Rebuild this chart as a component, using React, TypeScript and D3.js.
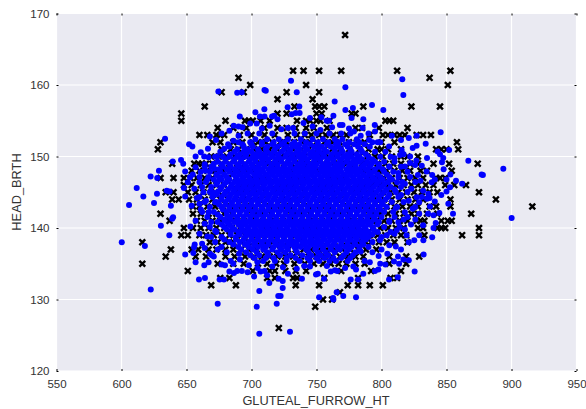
import React, { useEffect, useRef } from 'react';
import * as d3 from 'd3';

const xTicks = [550, 600, 650, 700, 750, 800, 850, 900, 950];
const yTicks = [120, 130, 140, 150, 160, 170];

// black crosses, one row per HEAD_BRTH value: [y, x values]
const crossRows: [number, number[]][] = [
  [167, [772]],
  [162, [732, 740, 752, 769, 812, 853]],
  [161, [690, 837]],
  [160, [699, 742, 851]],
  [159, [677, 694, 727, 752]],
  [158, [720, 747]],
  [157, [664, 733, 749, 752, 756, 786, 823, 845]],
  [156, [646, 720, 727, 750, 754, 777, 780]],
  [155, [646, 680, 695, 698, 701, 707, 714, 735, 742, 745, 750, 753, 760, 803, 806, 809]],
  [154, [674, 686, 696, 710, 720, 727, 734, 742, 748, 758, 780, 785, 798, 820]],
  [153, [660, 666, 673, 676, 679, 691, 700, 710, 718, 728, 735, 741, 746, 752, 757, 763, 768, 773, 791, 801, 805, 810, 814, 818, 827, 832, 838]],
  [152, [630, 670, 676, 686, 693, 701, 705, 711, 716, 722, 727, 733, 739, 745, 750, 756, 762, 768, 775, 781, 787, 800, 810, 858]],
  [151, [628, 677, 684, 690, 696, 702, 708, 714, 720, 726, 732, 738, 744, 750, 756, 762, 768, 775, 783, 790, 797, 800, 805, 815, 842, 846, 850, 859]],
  [150, [669, 675, 681, 687, 693, 699, 705, 711, 717, 723, 729, 735, 741, 747, 753, 759, 765, 771, 777, 783, 789, 795, 801, 808, 815, 820, 828]],
  [149, [639, 656, 659, 662, 665, 670, 677, 683, 689, 695, 701, 707, 713, 719, 725, 731, 737, 743, 749, 755, 761, 767, 773, 779, 785, 791, 797, 803, 809, 815, 822, 828, 840, 852, 874]],
  [148, [654, 660, 666, 672, 678, 684, 690, 696, 702, 708, 714, 720, 726, 732, 738, 744, 750, 756, 762, 768, 774, 780, 786, 792, 798, 804, 810, 816, 822, 830, 835, 854]],
  [147, [630, 640, 648, 653, 658, 664, 670, 676, 682, 688, 694, 700, 706, 712, 718, 724, 730, 736, 742, 748, 754, 760, 766, 772, 778, 784, 790, 796, 802, 808, 814, 820, 826, 832, 842, 845, 849]],
  [146, [648, 654, 661, 667, 673, 679, 685, 691, 697, 703, 709, 715, 721, 727, 733, 739, 745, 751, 757, 763, 769, 775, 781, 787, 793, 799, 805, 811, 817, 823, 828, 834, 840, 849, 856, 865]],
  [145, [634, 640, 651, 657, 663, 669, 675, 681, 687, 693, 699, 705, 711, 717, 723, 729, 735, 741, 747, 753, 759, 765, 771, 777, 783, 789, 795, 801, 807, 813, 819, 825, 831, 837, 843, 875]],
  [144, [639, 644, 652, 658, 664, 670, 676, 682, 688, 694, 700, 706, 712, 718, 724, 730, 736, 742, 748, 754, 760, 766, 772, 778, 784, 790, 796, 802, 808, 814, 820, 826, 832, 853, 888]],
  [143, [655, 660, 666, 672, 678, 684, 690, 696, 702, 708, 714, 720, 726, 732, 738, 744, 750, 756, 762, 768, 774, 780, 786, 792, 798, 804, 810, 816, 822, 828, 837, 842, 853, 916]],
  [142, [630, 655, 661, 667, 673, 679, 685, 691, 697, 703, 709, 715, 721, 727, 733, 739, 745, 751, 757, 763, 769, 775, 781, 787, 793, 799, 805, 811, 817, 823, 828, 835, 843, 869]],
  [141, [637, 658, 664, 670, 676, 682, 688, 694, 700, 706, 712, 718, 724, 730, 736, 742, 748, 754, 760, 766, 772, 778, 784, 790, 796, 802, 808, 814, 820, 827, 830, 833, 846, 851, 854]],
  [140, [648, 655, 661, 667, 673, 679, 685, 691, 697, 703, 709, 715, 721, 727, 733, 739, 745, 751, 757, 763, 769, 775, 781, 787, 793, 799, 805, 811, 817, 828, 832, 843, 846, 849, 875]],
  [139, [646, 651, 660, 665, 671, 677, 683, 689, 695, 701, 707, 713, 719, 725, 731, 737, 743, 749, 755, 761, 767, 773, 779, 785, 791, 797, 803, 809, 815, 819, 833, 862, 875]],
  [138, [616, 668, 674, 680, 686, 692, 698, 704, 710, 716, 722, 728, 734, 740, 746, 752, 758, 764, 770, 776, 782, 788, 792, 798, 804, 810, 820]],
  [137, [638, 654, 659, 667, 673, 680, 686, 692, 698, 704, 710, 716, 722, 728, 734, 740, 746, 752, 758, 764, 770, 776, 782, 788, 796]],
  [136, [634, 657, 665, 680, 687, 695, 702, 708, 714, 720, 726, 732, 738, 744, 750, 756, 762, 768, 774, 780, 786, 806, 819, 829]],
  [135, [616, 674, 686, 694, 705, 712, 719, 725, 733, 741, 748, 755, 761, 767, 773, 780, 787, 806, 819]],
  [134, [651, 701, 714, 718, 726, 734, 742, 769, 792, 815]],
  [133, [676, 683, 712, 718, 732, 735, 756, 782, 807, 812]],
  [132, [669, 688, 734, 752, 774, 782, 791, 801]],
  [131, [768]],
  [130, [755, 762]],
  [129, [749]],
  [126, [721]],
];

// blue dots around the edge of the cloud: [x, y]
const dotEdge: [number, number][] = [
  [633.5, 152.5], [652, 151.7], [654.5, 151.4], [639.4, 149.3], [645.8, 149.5], [647.5, 149], [628.8, 148],
  [622.4, 147.2], [627.5, 147], [611.7, 145.6], [616.8, 144.4], [627.3, 144.8], [634.8, 145.2], [637, 145.1],
  [648, 145.6], [649, 144.4], [674.5, 159.1], [689, 158.9], [692.5, 159], [710, 159.3], [711, 159.2],
  [730.4, 160.6], [734.8, 159], [691, 155.6], [709.9, 156.6], [727.8, 156.9], [736.8, 157], [706.5, 155.6],
  [710, 155.6], [715.8, 155.6], [717.4, 155.7], [720, 155.2], [731, 155.9], [734, 156.1], [737, 156.1],
  [686.3, 154.3], [690, 154.2], [693, 154.1], [704, 154.6], [740, 154.7], [728, 154], [732, 154],
  [672.7, 152.3], [690, 152.9], [686, 152.2], [682, 151.7], [679, 151.1], [666.5, 151.1], [661, 150.6],
  [657, 150], [663.6, 150], [667, 149.9], [673.5, 150], [671, 149], [671.5, 148.3], [649, 147.9],
  [657, 148.5], [654.8, 147.5], [652.7, 147.1], [664.8, 148], [663, 145], [670, 145], [656, 145.5],
  [660, 146.4], [666, 146.8], [658, 144.2], [665, 143.8], [672, 143.6], [661, 142.6], [667, 142.2],
  [605.8, 143.2], [625, 143.5], [638, 143.1], [639.7, 141.5], [639, 141.3], [630.3, 140.3], [636.8, 139],
  [600.2, 138], [618, 137.5], [622.5, 131.4], [649, 136.3], [656.3, 137.7], [655.8, 137.3], [655.2, 136.5],
  [657, 135.2], [662, 137.8], [663.7, 134.8], [668, 136.4], [671, 136], [669.5, 136.2], [659.6, 132.8],
  [664.2, 133], [674, 129.4], [678.8, 132.8], [675.5, 132.8], [679.6, 134.8], [684, 135.4], [683, 133.9],
  [686.5, 133.7], [689, 134], [692.6, 134], [681, 136.6], [690.5, 136.4], [698, 134.8], [704.6, 135.2],
  [704.6, 134.4], [707, 133.9], [710, 134], [706, 131.2], [704, 129], [706, 125.2], [729.6, 125.5],
  [719.4, 129.4], [720.6, 130.5], [722.4, 130.5], [724, 131.6], [724, 132.6], [720.9, 132.9], [713.7, 132.3],
  [716, 134.6], [724.2, 134.5], [734.8, 134.3], [738.8, 132.9], [740.6, 134.7], [749.6, 133.5], [751, 133.6],
  [755.8, 132.9], [752, 130.3], [762.8, 130.2], [763, 130], [765.5, 131], [770.6, 130.5], [780.4, 130.3],
  [776.3, 132.8], [782, 132.8], [761, 133.9], [764.2, 134.1], [766, 134], [778.3, 134.6], [780.4, 134.2],
  [795, 134], [797.6, 134.2], [805.8, 132.8], [812.5, 133.1], [825.5, 133.9], [803, 134.9], [809.6, 135.3],
  [813.5, 135], [816.8, 135.6], [821, 135.5], [812.7, 136], [804.5, 136.4], [797.8, 136.1], [832.4, 136.3],
  [815, 137], [825.2, 138.3], [829, 139], [832.2, 138.3], [839, 138.7], [840, 140], [821, 138], [819.3, 139],
  [810, 139.2], [811.7, 139.7], [804, 139], [798.8, 138.3], [900.1, 141.4], [855, 142], [851.4, 143.4],
  [844.5, 142.1], [840, 141.8], [835.8, 142], [841.7, 140.7], [837.3, 143], [822.7, 140.5], [829, 142],
  [816, 160.8], [772.2, 159.7], [816.8, 158.6], [764, 157.7], [792.7, 157.2], [778, 156.8], [772.2, 156.5],
  [801.4, 156.5], [763, 155.7], [753.7, 155.5], [759.6, 155], [757.8, 155], [768, 154.4], [770, 154.4],
  [775, 153.9], [785.5, 154], [794.8, 154.4], [778.8, 153.5], [821, 152.6], [827, 152.9], [845.5, 153.4],
  [834, 151.8], [805.8, 151.4], [827, 151.5], [824, 151.2], [843.2, 150.7], [852, 150.9], [795, 153.5],
  [790.4, 152.3], [793, 152], [815.5, 150.9], [814.3, 150.2], [817, 150.3], [810, 149.8], [822, 150],
  [826.8, 149.4], [845, 150.3], [847.5, 149.8], [846.5, 149.2], [866.8, 149.4], [893.7, 148.3], [877, 147.5],
  [878, 147.4], [847.8, 148.2], [839, 147.4], [834.7, 147.9], [825.8, 148.8], [822, 149.1], [818, 148.6],
  [853, 147.5], [850, 146.8], [857.3, 146.6], [862, 146.2], [852.7, 145.7], [850, 145.1], [838.6, 146.4],
  [841, 146.8], [828, 147.4], [830, 146.6], [832, 145.2], [836, 144.8], [837, 144.2], [813, 147.7],
  [806, 148.6], [812, 146.4], [818, 146.2], [823, 145.5], [815, 144.6], [821, 143.8], [827, 144.3],
  [811, 142.8], [818, 142.2], [824, 142.7], [806, 141], [813, 140.8], [817, 141.2], [800, 137], [793, 136.6],
  [787, 135.4], [784, 136.7],
  // loose dots that break up the outline of the cloud
  [699, 154.6], [708, 153.9], [714, 154.3], [723, 153.8], [747, 154.2], [753, 153.7], [762, 154.1], [784, 152.9],
  [677, 153.2], [668, 152.8], [683, 153.6], [664, 148.9], [660, 143.4], [654, 143.1], [651, 146.4], [657, 141],
  [664, 140.6], [660, 139.2], [666, 138.8], [653, 140.2], [672, 139.6], [664, 137.2], [674, 137], [667, 135.2],
  [677, 134.9], [686, 135], [691, 135.6], [697, 133.8], [702, 133.2], [712, 133.4], [728, 133.6], [745, 134.6],
  [758, 134.7], [772, 134.4], [786, 133.6], [791, 135.2], [799, 135], [806, 137.6], [811, 137.4], [818, 139.8],
  [826, 141.2], [832, 140.4], [835, 144.1], [829, 143.6], [841, 143.7], [846, 144.6], [835, 149.8], [831, 148.7],
  [815, 152.3], [808, 152.9], [799, 152], [786, 155.2], [777, 155.4], [745, 155.4], [703, 156.2],
];

// blue dots filling the solid middle, one row per y: [y, x values]
const dotRows: [number, number[]][] = [
  [153.2, [697, 706, 716, 733, 741, 750, 760, 769, 776, 790]],
  [152.4, [703, 712, 721, 728, 738, 747, 755, 764, 770, 781]],
  [152, [690, 699, 708, 717, 725, 733, 742, 751, 759, 767, 775, 783, 797]],
  [151.7, [693, 700, 708, 716, 723, 731, 737, 745, 751, 758, 765, 772, 779, 787]],
  [151.35, [683, 694, 701, 712, 720, 727, 734, 741, 748, 754, 761, 767, 774, 782, 791]],
  [151, [689, 697, 705, 711, 718, 725, 730, 737, 743, 751, 756, 764, 769, 776, 784]],
  [150.65, [676, 687, 694, 700, 706, 712, 717, 723, 729, 735, 741, 747, 752, 758, 764, 770, 777, 785, 795, 803]],
  [150.3, [684, 691, 696, 703, 709, 715, 720, 727, 732, 738, 745, 749, 755, 762, 767, 774, 781, 788]],
  [149.95, [672, 678, 683, 689, 695, 701, 706, 711, 716, 721, 726, 731, 736, 741, 746, 751, 756, 761, 766, 771, 777, 783, 790, 799, 807]],
  [149.6, [680, 687, 692, 699, 703, 709, 713, 719, 723, 729, 733, 739, 743, 749, 753, 759, 763, 769, 774, 780, 785, 793]],
  [149.25, [674, 680, 686, 692, 698, 703, 708, 713, 718, 723, 728, 733, 738, 743, 748, 753, 758, 763, 768, 773, 778, 783, 789, 795, 802, 810]],
  [148.9, [677, 683, 689, 695, 700, 706, 710, 716, 720, 726, 730, 736, 740, 746, 750, 756, 760, 766, 770, 776, 780, 787, 792, 798]],
  [148.55, [664, 669, 678, 684, 691, 696, 701, 705, 710, 715, 720, 725, 730, 735, 739, 744, 749, 754, 759, 764, 769, 775, 780, 785, 791, 798, 806, 815]],
  [148.2, [675, 681, 687, 693, 698, 703, 707, 713, 717, 722, 727, 733, 737, 742, 747, 753, 757, 762, 767, 773, 777, 782, 788, 795, 801]],
  [147.85, [661, 668, 676, 683, 689, 694, 699, 704, 709, 714, 719, 724, 729, 734, 739, 744, 749, 754, 759, 764, 769, 774, 779, 784, 790, 794, 802, 809, 820]],
  [147.5, [673, 679, 686, 691, 696, 702, 706, 711, 716, 721, 726, 731, 736, 741, 746, 751, 756, 761, 766, 771, 776, 781, 786, 791, 797, 804]],
  [147.15, [660, 667, 675, 681, 688, 693, 698, 703, 708, 713, 718, 723, 728, 733, 738, 743, 748, 753, 758, 763, 768, 773, 778, 783, 788, 793, 799, 806, 813, 822]],
  [146.8, [671, 677, 683, 689, 694, 699, 704, 709, 714, 719, 724, 729, 734, 739, 744, 749, 754, 759, 764, 769, 774, 779, 784, 789, 795, 801, 808]],
  [146.45, [665, 674, 681, 687, 692, 697, 702, 707, 712, 717, 722, 727, 732, 737, 742, 747, 752, 757, 762, 767, 772, 777, 782, 787, 792, 798, 805, 816, 826]],
  [146.1, [673, 679, 685, 690, 695, 700, 705, 710, 715, 720, 725, 730, 735, 740, 745, 750, 755, 760, 765, 770, 775, 780, 785, 790, 796, 802]],
  [145.75, [662, 669, 677, 684, 689, 694, 699, 704, 709, 714, 719, 724, 729, 734, 739, 744, 749, 754, 759, 764, 769, 774, 779, 784, 789, 794, 800, 807, 815]],
  [145.4, [676, 682, 687, 692, 697, 702, 707, 712, 717, 722, 727, 732, 737, 742, 747, 752, 757, 762, 767, 772, 777, 782, 787, 792, 798, 804, 810]],
  [145.05, [668, 674, 680, 686, 691, 696, 701, 706, 711, 716, 721, 726, 731, 736, 741, 746, 751, 756, 761, 766, 771, 776, 781, 786, 791, 796, 802, 811, 820]],
  [144.7, [673, 679, 684, 689, 694, 699, 704, 709, 714, 719, 724, 729, 734, 739, 744, 749, 754, 759, 764, 769, 774, 779, 784, 789, 794, 800, 806]],
  [144.35, [660, 670, 677, 683, 688, 693, 698, 703, 708, 713, 718, 723, 728, 733, 738, 743, 748, 753, 758, 763, 768, 773, 778, 783, 788, 793, 798, 805, 813, 831]],
  [144, [677, 682, 687, 692, 697, 702, 707, 712, 717, 722, 727, 732, 737, 742, 747, 752, 757, 762, 767, 772, 777, 782, 787, 792, 798, 803]],
  [143.65, [664, 673, 680, 685, 690, 695, 700, 705, 710, 715, 720, 725, 730, 735, 740, 745, 750, 755, 760, 765, 770, 775, 780, 785, 790, 795, 800, 808, 817]],
  [143.3, [675, 680, 685, 690, 695, 700, 705, 710, 715, 720, 725, 730, 735, 740, 745, 750, 755, 760, 765, 770, 775, 780, 785, 790, 795, 801]],
  [142.95, [668, 677, 683, 688, 693, 698, 703, 708, 713, 718, 723, 728, 733, 738, 743, 748, 753, 758, 763, 768, 773, 778, 783, 788, 793, 798, 804, 812, 826]],
  [142.6, [678, 683, 688, 693, 698, 703, 708, 713, 718, 723, 728, 733, 738, 743, 748, 753, 758, 763, 768, 773, 778, 783, 788, 793, 799]],
  [142.25, [662, 671, 681, 686, 691, 696, 701, 706, 711, 716, 721, 726, 731, 736, 741, 746, 751, 756, 761, 766, 771, 776, 781, 786, 791, 796, 802, 809]],
  [141.9, [674, 681, 686, 691, 696, 701, 706, 711, 716, 721, 726, 731, 736, 741, 746, 751, 756, 761, 766, 771, 776, 781, 786, 791, 796]],
  [141.55, [666, 676, 683, 689, 694, 699, 704, 709, 714, 719, 724, 729, 734, 739, 744, 749, 754, 759, 764, 769, 774, 779, 784, 789, 794, 800, 810, 820]],
  [141.2, [679, 684, 689, 694, 699, 704, 709, 714, 719, 724, 729, 734, 739, 744, 749, 754, 759, 764, 769, 774, 779, 784, 789, 795]],
  [140.85, [669, 674, 681, 687, 692, 697, 702, 707, 712, 717, 722, 727, 732, 737, 742, 747, 752, 757, 762, 767, 772, 777, 782, 787, 792, 798, 806]],
  [140.5, [677, 683, 690, 695, 700, 705, 710, 715, 720, 725, 730, 735, 740, 745, 750, 755, 760, 765, 770, 775, 780, 785, 790, 797]],
  [140.15, [668, 679, 685, 692, 697, 702, 707, 712, 717, 722, 727, 732, 737, 742, 747, 752, 757, 762, 767, 772, 777, 782, 787, 793, 802, 814]],
  [139.8, [681, 687, 693, 698, 703, 708, 713, 718, 723, 728, 733, 738, 743, 748, 753, 758, 763, 768, 773, 778, 783, 788, 794]],
  [139.45, [673, 684, 690, 695, 700, 705, 710, 715, 720, 725, 730, 735, 740, 745, 750, 755, 760, 765, 770, 775, 780, 785, 790, 797, 807]],
  [139.1, [684, 691, 697, 702, 707, 712, 717, 722, 727, 732, 737, 742, 747, 752, 757, 762, 767, 772, 777, 782, 787, 793]],
  [138.75, [669, 677, 688, 695, 700, 705, 710, 715, 720, 725, 730, 735, 740, 745, 750, 755, 760, 765, 770, 775, 780, 785, 790, 800]],
  [138.4, [679, 688, 694, 700, 705, 710, 715, 720, 725, 730, 736, 741, 746, 751, 756, 761, 766, 771, 776, 781, 788]],
  [138.05, [672, 683, 691, 698, 703, 708, 713, 718, 723, 728, 733, 739, 744, 749, 754, 759, 764, 769, 774, 779, 785, 793]],
  [137.7, [686, 695, 702, 708, 713, 719, 724, 730, 735, 741, 747, 752, 758, 763, 769, 774, 780, 786]],
  [137.35, [677, 690, 698, 705, 711, 717, 722, 727, 733, 738, 744, 750, 755, 761, 766, 772, 777, 783, 790]],
  [137, [692, 701, 709, 716, 723, 728, 734, 742, 749, 755, 761, 768, 775, 783]],
  [136.6, [696, 704, 712, 720, 726, 735, 744, 751, 757, 764, 773, 780]],
  [136.2, [699, 706, 713, 722, 730, 739, 746, 753, 759, 771, 778]],
  [135.8, [702, 711, 717, 727, 734, 743, 750, 756, 763, 769, 776]],
  [135.4, [709, 718, 727, 737, 745, 752, 760, 765, 774]],
];

export default function App() {
  const svgRef = useRef<SVGSVGElement>(null);

  useEffect(() => {
    const svg = d3.select(svgRef.current);
    svg.selectAll('*').remove();

    const x = d3.scaleLinear().domain([550, 950]).range([56.5, 576.5]);
    const y = d3.scaleLinear().domain([120, 170]).range([371, 13.5]);
    const fontFamily = '"Liberation Sans", Arial, sans-serif';

    svg
      .append('rect')
      .attr('x', x(550))
      .attr('y', y(170))
      .attr('width', x(950) - x(550))
      .attr('height', y(120) - y(170))
      .attr('fill', '#eaeaf2');

    // grid
    const grid = svg.append('g').attr('stroke', '#fff').attr('stroke-width', 1.2);
    grid
      .selectAll('line.gx')
      .data(xTicks)
      .enter()
      .append('line')
      .attr('x1', (d) => x(d))
      .attr('x2', (d) => x(d))
      .attr('y1', y(120))
      .attr('y2', y(170));
    grid
      .selectAll('line.gy')
      .data(yTicks)
      .enter()
      .append('line')
      .attr('class', 'gy')
      .attr('x1', x(550))
      .attr('x2', x(950))
      .attr('y1', (d) => y(d))
      .attr('y2', (d) => y(d));

    // crosses go under the dots
    const cross = d3.symbol().type(d3.symbolX).size(24);
    const crossData = crossRows.flatMap(([yv, xs]) => xs.map((xv) => [xv, yv]));
    svg
      .append('g')
      .selectAll('path')
      .data(crossData)
      .enter()
      .append('path')
      .attr('d', cross as any)
      .attr('transform', (d) => `translate(${x(d[0])},${y(d[1])})`)
      .attr('fill', 'none')
      .attr('stroke', '#000')
      .attr('stroke-width', 2.4);

    const dotData = [
      ...dotEdge,
      ...dotRows.flatMap(([yv, xs]) => xs.map((xv) => [xv, yv] as [number, number])),
    ];
    svg
      .append('g')
      .selectAll('circle')
      .data(dotData)
      .enter()
      .append('circle')
      .attr('cx', (d) => x(d[0]))
      .attr('cy', (d) => y(d[1]))
      .attr('r', 3)
      .attr('fill', '#0000ff');

    // axes, ticks point inwards
    const styleAxis = (g: any) => {
      g.select('.domain').remove();
      g.selectAll('.tick line').attr('stroke', '#000').attr('stroke-width', 1);
      g.selectAll('.tick text')
        .attr('fill', '#333')
        .style('font-family', fontFamily)
        .style('font-size', '11.5px');
    };
    svg
      .append('g')
      .attr('transform', `translate(0,${y(120)})`)
      .call(
        d3.axisBottom(x).tickValues(xTicks).tickSize(-2).tickPadding(9).tickFormat(d3.format('d')) as any,
      )
      .call(styleAxis);
    svg
      .append('g')
      .attr('transform', `translate(0,${y(170)})`)
      .call(d3.axisTop(x).tickValues(xTicks).tickSize(-2).tickFormat(() => '') as any)
      .call(styleAxis);
    svg
      .append('g')
      .attr('transform', `translate(${x(550)},0)`)
      .call(
        d3.axisLeft(y).tickValues(yTicks).tickSize(-2).tickPadding(7).tickFormat(d3.format('d')) as any,
      )
      .call(styleAxis);
    svg
      .append('g')
      .attr('transform', `translate(${x(950)},0)`)
      .call(d3.axisRight(y).tickValues(yTicks).tickSize(-2).tickFormat(() => '') as any)
      .call(styleAxis);

    svg
      .append('text')
      .attr('x', 316)
      .attr('y', 405)
      .attr('text-anchor', 'middle')
      .attr('fill', '#333')
      .style('font-family', fontFamily)
      .style('font-size', '12.8px')
      .text('GLUTEAL_FURROW_HT');
    svg
      .append('text')
      .attr('transform', `translate(21,192) rotate(-90)`)
      .attr('text-anchor', 'middle')
      .attr('fill', '#333')
      .style('font-family', fontFamily)
      .style('font-size', '12.8px')
      .text('HEAD_BRTH');
  }, []);

  return (
    <svg
      ref={svgRef}
      width={586}
      height={409}
      style={{ position: 'absolute', left: 0, top: 0, background: '#fff' }}
    />
  );
}
